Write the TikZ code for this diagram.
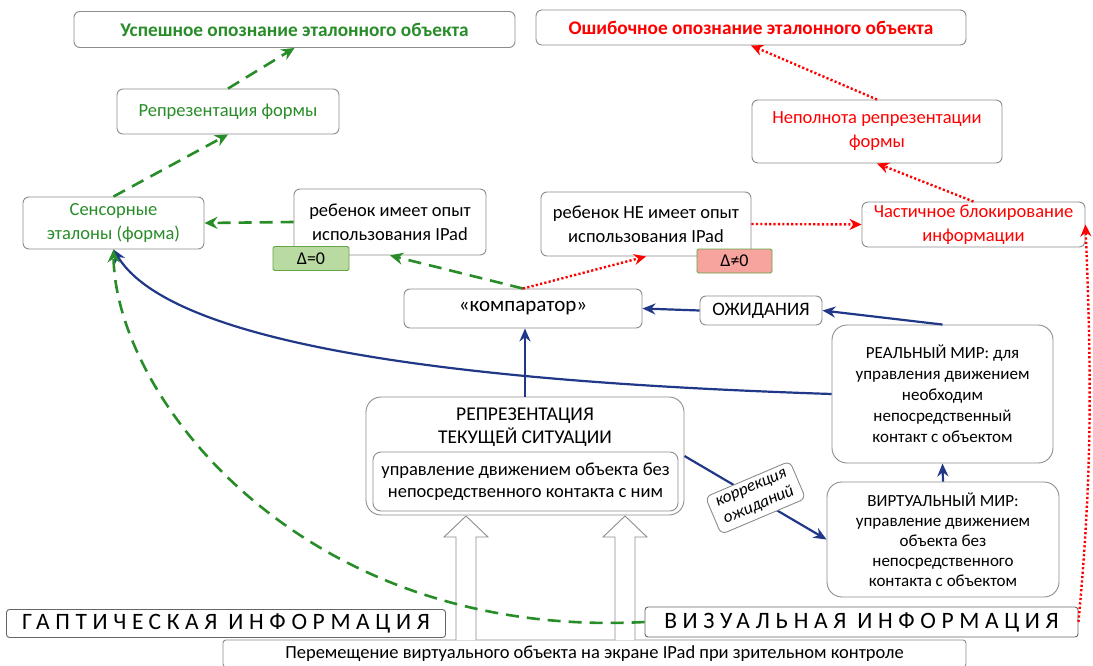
\documentclass[tikz,border=0pt]{standalone}
\usepackage{fontspec}
\setmainfont{Carlito}
\newfontfamily\spacedfont[LetterSpace=24]{Carlito}
\usetikzlibrary{arrows.meta, positioning, calc}

\definecolor{okgreen}{RGB}{40,140,40}
\definecolor{errred}{RGB}{255,0,0}
\definecolor{flowblue}{RGB}{32,56,135}
\definecolor{boxgray}{RGB}{140,140,140}
\definecolor{zerofill}{RGB}{185,218,160}
\definecolor{zeroline}{RGB}{100,165,70}
\definecolor{nonzerofill}{RGB}{247,163,158}

\tikzset{
  box/.style={draw=boxgray, line width=0.9pt, rounded corners=6pt, fill=white,
    inner sep=0pt, align=center, font=\fontsize{18.5}{24}\selectfont},
  bigbox/.style={box, rounded corners=15pt, font=\fontsize{17}{21}\selectfont},
  deltabox/.style={draw=zeroline, line width=0.9pt, rounded corners=1.5pt,
    inner sep=0pt, minimum height=24pt, font=\fontsize{18}{20}\selectfont},
  labelbox/.style={box, draw=black!60, rounded corners=3pt, font=\spacedfont\fontsize{23.5}{26}\selectfont},
  okline/.style={draw=okgreen, line width=2.6pt, dash pattern=on 13pt off 8pt,
    -{Stealth[length=13pt,width=12pt]}},
  errline/.style={draw=errred, line width=2.4pt, dash pattern=on 2.2pt off 2.2pt,
    -{Stealth[length=12pt,width=11pt]}},
  flowline/.style={draw=flowblue, line width=2.2pt, -{Stealth[length=13pt,width=11pt]}},
}

\begin{document}
\begin{tikzpicture}[x=1pt, y=-1pt]
    \useasboundingbox (0,0) rectangle (1093,666);

    % results
    \node[box, minimum width=441pt, minimum height=36pt, text=okgreen,
      font=\bfseries\fontsize{19.3}{24}\selectfont] (succ) at (294.5,29.5) {Успешное опознание эталонного объекта};
    \node[box, minimum width=430pt, minimum height=35pt, text=errred,
      font=\bfseries\fontsize{19.3}{24}\selectfont] (err) at (751,27.5) {Ошибочное опознание эталонного объекта};
    \node[box, minimum width=222pt, minimum height=45pt, text=okgreen] (form) at (228,111.5) {Репрезентация формы};
    \node[box, minimum width=250pt, minimum height=63pt, text=errred] (incomp) at (877,131.5) {Неполнота репрезентации\\формы};

    % middle row
    \node[box, minimum width=181pt, minimum height=52pt, text=okgreen] (sens) at (113.5,223) {Сенсорные\\эталоны (форма)};
    \node[box, minimum width=192pt, minimum height=66pt] (exp) at (390,222) {ребенок имеет опыт\\использования IPad};
    \node[box, minimum width=210pt, minimum height=64pt] (noexp) at (646,224) {ребенок НЕ имеет опыт\\использования IPad};
    \node[box, minimum width=223pt, minimum height=45pt, text=errred] (part) at (973.5,224.5) {Частичное блокирование\\информации};
    \node[deltabox, fill=zerofill, minimum width=76pt] (dzero) at (311,258.5) {Δ=0};
    \node[deltabox, fill=nonzerofill, minimum width=75pt] (dnonzero) at (734.5,261) {Δ≠0};

    \node[box, minimum width=238pt, minimum height=39pt, font=\fontsize{21}{24}\selectfont] (comp) at (523,308.5) {«компаратор»};
    \node[box, minimum width=122pt, minimum height=29pt, font=\fontsize{19}{22}\selectfont] (expect) at (761,310.5) {ОЖИДАНИЯ};

    % worlds
    \node[bigbox, minimum width=221pt, minimum height=138pt] (real) at (942.5,394) {РЕАЛЬНЫЙ МИР: для\\управления движением\\необходим\\непосредственный\\контакт с объектом};
    \node[bigbox, minimum width=232pt, minimum height=115pt, font=\fontsize{17}{20}\selectfont] (virt) at (943,539.5) {ВИРТУАЛЬНЫЙ МИР:\\управление движением\\объекта без\\непосредственного\\контакта с объектом};

    % current situation
    \node[bigbox, minimum width=318pt, minimum height=118pt] (repr) at (525,456) {};
    \node[align=center, font=\fontsize{19.5}{23}\selectfont] (reprtitle) at (525,427) {РЕПРЕЗЕНТАЦИЯ\\ТЕКУЩЕЙ СИТУАЦИИ};
    \node[box, rounded corners=8pt, minimum width=305pt, minimum height=59pt,
      font=\fontsize{18.5}{22}\selectfont] (reprinner) at (525.5,481.5) {управление движением объекта без\\непосредственного контакта с ним};

    % inputs
    \node[labelbox, minimum width=439pt, minimum height=28pt] (hapt) at (226,623.5) {ГАПТИЧЕСКАЯ ИНФОРМАЦИЯ};
    \node[labelbox, minimum width=433pt, minimum height=30pt] (vis) at (861.5,622) {ВИЗУАЛЬНАЯ ИНФОРМАЦИЯ};
    \node[box, rounded corners=3pt, minimum width=743pt, minimum height=27pt] (move) at (594.5,653.5) {Перемещение виртуального объекта на экране IPad при зрительном контроле};

    % hollow arrows
    \foreach \ax in {466,625}
        \draw[boxgray, line width=0.9pt, fill=white] (\ax-10,640) -- (\ax-10,537) -- (\ax-22,537)
            -- (\ax,516) -- (\ax+22,537) -- (\ax+10,537) -- (\ax+10,640);

    % blue connectors
    \draw[flowline] (repr.north) -- (repr.north |- comp.south);
    \draw[flowline] (expect.west) -- (comp.east);
    \draw[flowline] (real.north) -- (expect.east);
    \draw[flowline] (virt.north) -- (real.south);
    \draw[flowline] (real.west) .. controls (560,385) and (180,360) .. (sens.south);
    \draw[flowline] (repr.east) -- (virt.west)
        node[midway, draw=boxgray, line width=0.9pt, fill=white, rounded corners=6pt, rotate=23,
          inner xsep=8pt, inner ysep=5pt, align=center, font=\itshape\fontsize{17}{19.5}\selectfont] (corr) {коррекция\\ожиданий};

    % green connectors
    \draw[okline] (vis.west) .. controls (300,640) and (115,395) .. (sens.south);
    \draw[okline] (comp.north) -- (exp.south);
    \draw[okline] (exp.west) -- (sens.east);
    \draw[okline] (sens.north) -- (form.south);
    \draw[okline] (form.north) -- (succ.south);

    % red connectors
    \draw[errline] (comp.north) -- (noexp.south);
    \draw[errline] (noexp.east) -- (part.west);
    \draw[errline] (part.north) -- (incomp.south);
    \draw[errline] (incomp.north) -- (err.south);
    \draw[errline] (vis.east) .. controls +(14,-150) and +(6,150) .. (part.east);
\end{tikzpicture}
\end{document}
